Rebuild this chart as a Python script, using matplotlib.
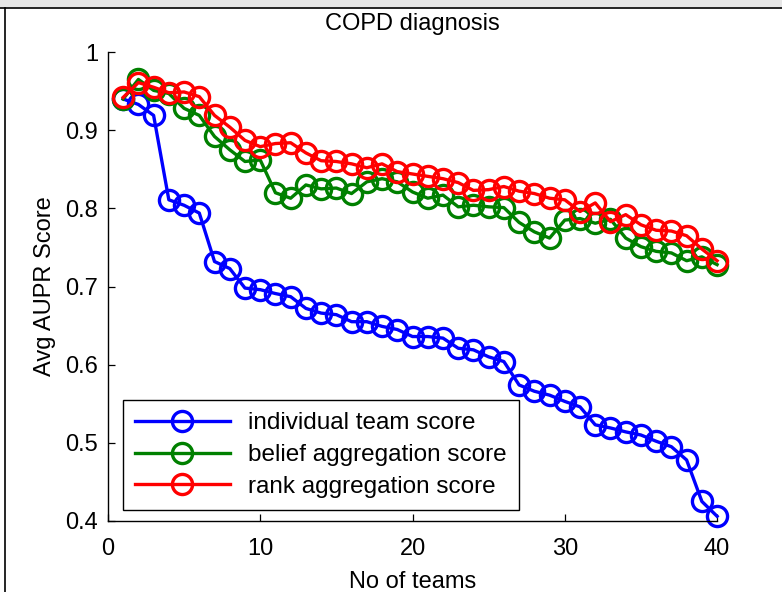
import matplotlib

matplotlib.use("Agg")
import matplotlib.pyplot as plt
from matplotlib.lines import Line2D

plt.rcParams["font.family"] = ["Liberation Sans", "DejaVu Sans"]

# number of teams combined (1..40)
teams = list(range(1, 41))

individual = [0.940, 0.933, 0.919, 0.811, 0.804, 0.794, 0.732, 0.723, 0.698, 0.696,
              0.691, 0.687, 0.672, 0.666, 0.664, 0.655, 0.655, 0.649, 0.645, 0.636,
              0.636, 0.634, 0.621, 0.619, 0.610, 0.604, 0.574, 0.566, 0.561, 0.553,
              0.546, 0.523, 0.519, 0.514, 0.510, 0.502, 0.495, 0.478, 0.425, 0.406]

belief = [0.940, 0.965, 0.951, 0.947, 0.928, 0.919, 0.892, 0.875, 0.860, 0.862,
          0.820, 0.813, 0.830, 0.825, 0.826, 0.819, 0.834, 0.838, 0.834, 0.821,
          0.813, 0.817, 0.802, 0.804, 0.802, 0.801, 0.782, 0.770, 0.762, 0.785,
          0.787, 0.781, 0.786, 0.762, 0.751, 0.745, 0.743, 0.733, 0.738, 0.728]

rank = [0.942, 0.961, 0.955, 0.948, 0.949, 0.943, 0.919, 0.904, 0.887, 0.879,
        0.883, 0.884, 0.871, 0.861, 0.860, 0.857, 0.852, 0.857, 0.847, 0.844,
        0.841, 0.838, 0.833, 0.823, 0.824, 0.828, 0.822, 0.819, 0.813, 0.811,
        0.796, 0.807, 0.783, 0.792, 0.779, 0.772, 0.771, 0.765, 0.748, 0.733]

FS = 17

fig = plt.figure(figsize=(7.82, 5.92), dpi=100)
ax = fig.add_axes([0.138, 0.120, 0.779, 0.792])

style = dict(marker="o", markersize=14.5, markerfacecolor="none",
             markeredgewidth=2.4, lw=2.4, clip_on=False)
ax.plot(teams, individual, color="#0000ff", label="individual team score", **style)
ax.plot(teams, belief, color="#008000", label="belief aggregation score", **style)
ax.plot(teams, rank, color="#ff0000", label="rank aggregation score", **style)

ax.set_xlim(0, 40)
ax.set_ylim(0.4, 1.0)
ax.set_xticks([0, 10, 20, 30, 40])
ax.set_yticks([0.4, 0.5, 0.6, 0.7, 0.8, 0.9, 1.0])
ax.set_yticklabels(["0.4", "0.5", "0.6", "0.7", "0.8", "0.9", "1"])
for s in ("top", "right"):
    ax.spines[s].set_visible(False)
for s in ("left", "bottom"):
    ax.spines[s].set_linewidth(1.0)
ax.tick_params(labelsize=FS, direction="in", length=5, width=0.9)
ax.tick_params(axis="x", pad=12)
ax.tick_params(axis="y", pad=7)

ax.set_title("COPD diagnosis", fontsize=FS, pad=16)
ax.set_xlabel("No of teams", fontsize=FS, labelpad=8)
ax.set_ylabel("Avg AUPR Score", fontsize=FS, labelpad=7)

leg = ax.legend(loc="lower left", bbox_to_anchor=(0.0246, 0.0235), borderaxespad=0,
                fontsize=17.5, handlelength=3.9, handletextpad=0.75,
                labelspacing=0.4, borderpad=0.5, fancybox=False, framealpha=1)
leg.get_frame().set_edgecolor("black")
leg.get_frame().set_linewidth(1.0)

# outer window frame (top and left edge of the figure window)
fig.add_artist(Line2D([0, 1], [1 - 8 / 592] * 2, transform=fig.transFigure,
                      color="black", lw=1.2))
fig.add_artist(Line2D([5 / 782] * 2, [0, 1 - 8 / 592], transform=fig.transFigure,
                      color="black", lw=1.2))
fig.patches.append(plt.Rectangle((0, 1 - 6 / 592), 1, 6 / 592,
                                 transform=fig.transFigure, color="#e6e6e6",
                                 zorder=-1))

fig.savefig("out.png", dpi=100)
